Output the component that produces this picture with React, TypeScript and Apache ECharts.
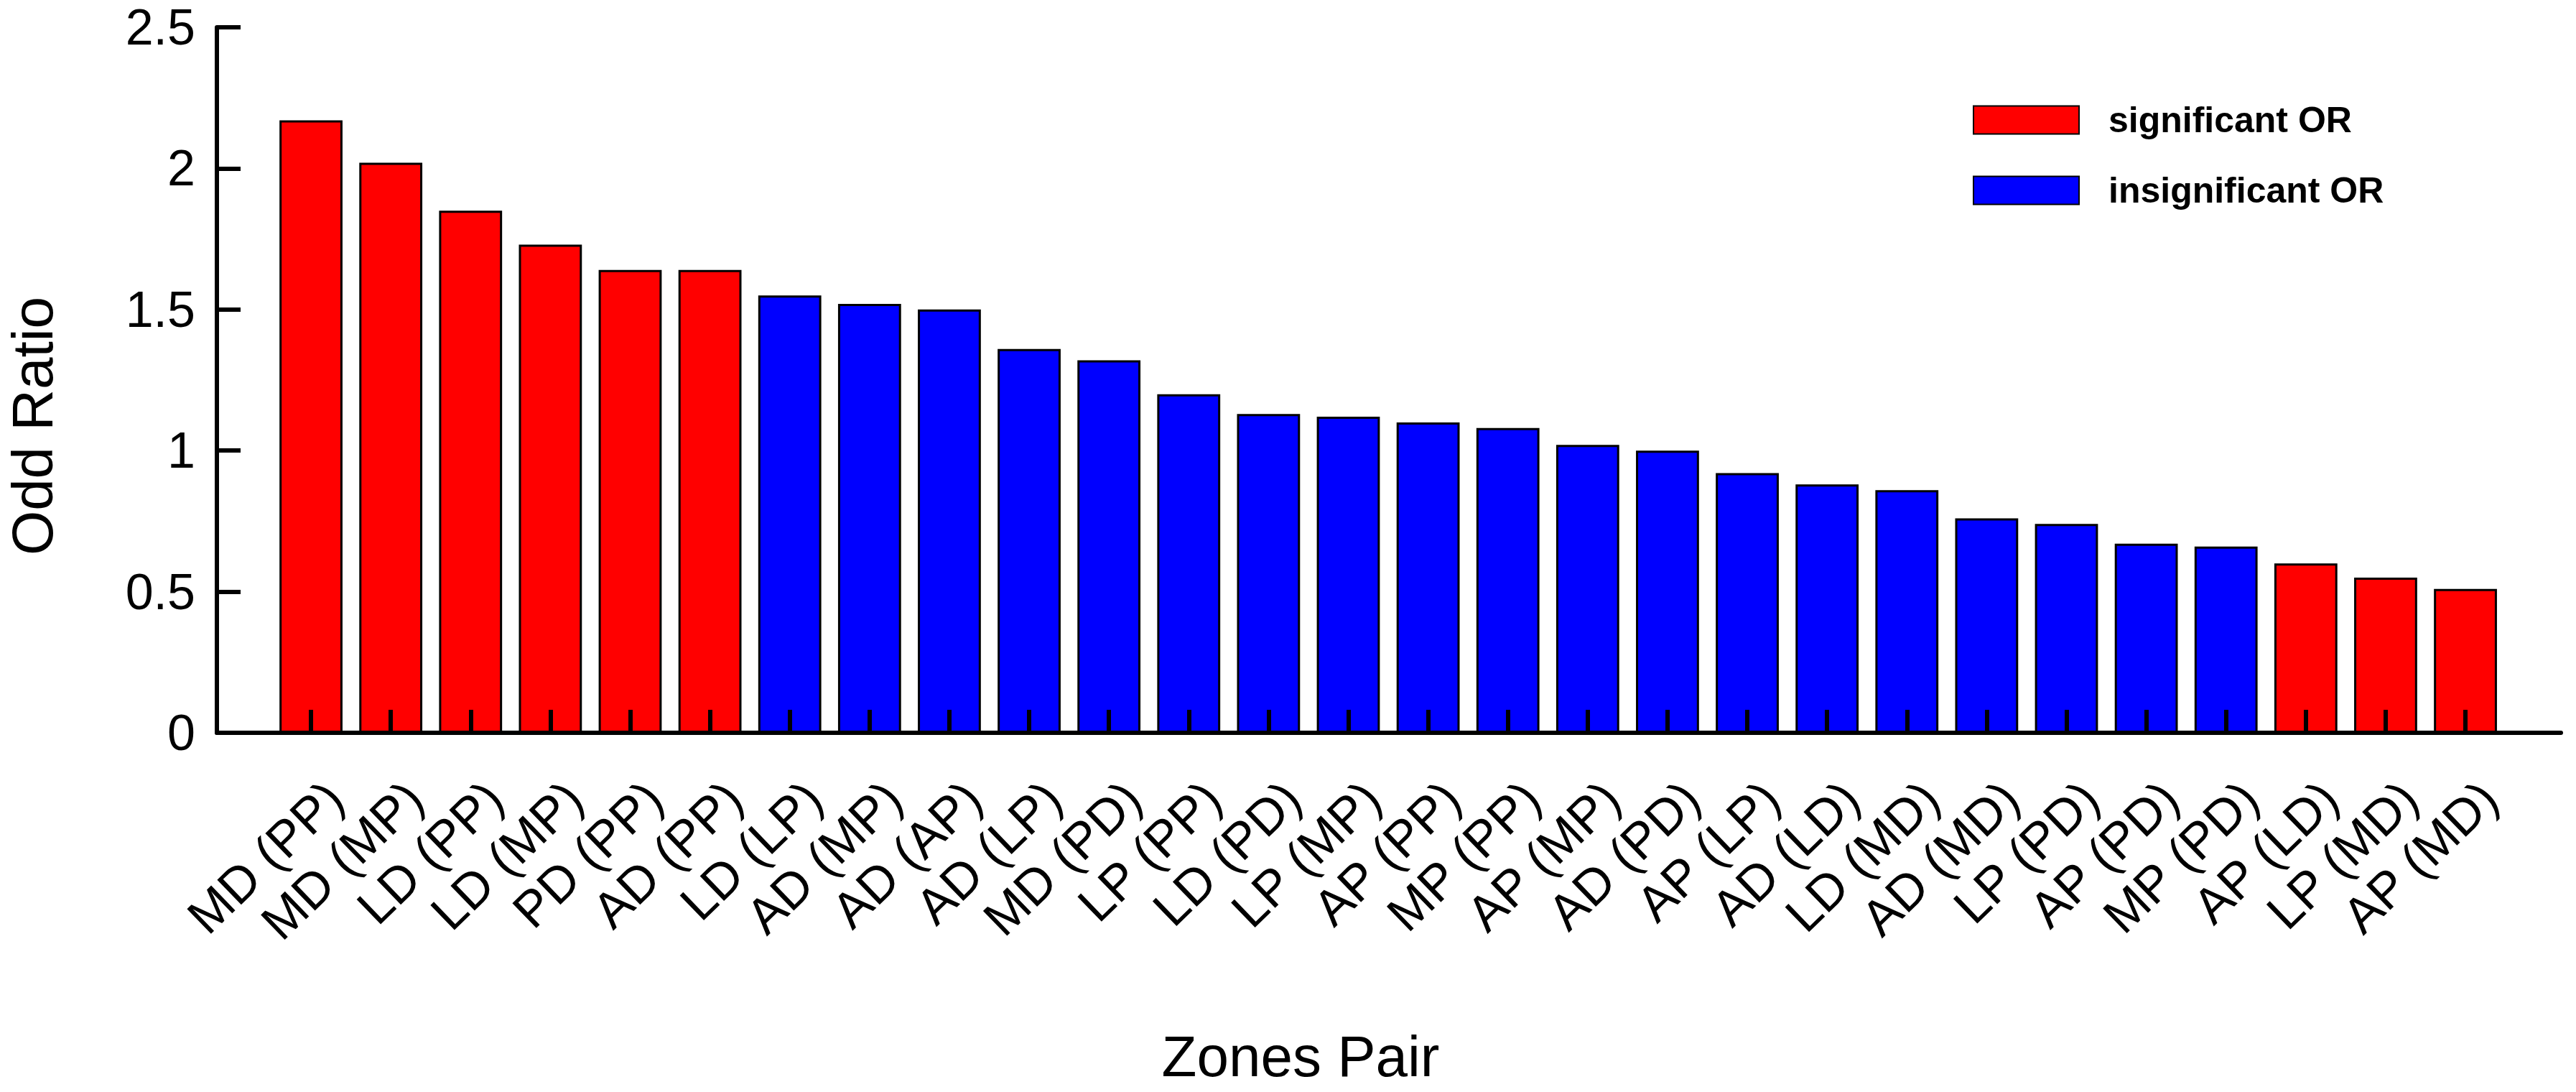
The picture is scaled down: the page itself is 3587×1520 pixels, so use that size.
import React, { useEffect, useRef } from "react";
import * as echarts from "echarts";

const categories = [
  "MD (PP)", "MD (MP)", "LD (PP)", "LD (MP)", "PD (PP)", "AD (PP)", "LD (LP)",
  "AD (MP)", "AD (AP)", "AD (LP)", "MD (PD)", "LP (PP)", "LD (PD)", "LP (MP)",
  "AP (PP)", "MP (PP)", "AP (MP)", "AD (PD)", "AP (LP)", "AD (LD)", "LD (MD)",
  "AD (MD)", "LP (PD)", "AP (PD)", "MP (PD)", "AP (LD)", "LP (MD)", "AP (MD)",
];
const oddRatios = [
  2.17, 2.02, 1.85, 1.73, 1.64, 1.64, 1.55, 1.52, 1.5, 1.36, 1.32, 1.2, 1.13, 1.12,
  1.1, 1.08, 1.02, 1.0, 0.92, 0.88, 0.86, 0.76, 0.74, 0.67, 0.66, 0.6, 0.55, 0.51,
];
const isSignificant = [
  true, true, true, true, true, true, false, false, false, false, false, false, false, false,
  false, false, false, false, false, false, false, false, false, false, false, true, true, true,
];
const legendNames = ["significant OR", "insignificant OR"];
const yMin = 0;
const yMax = 2.5;
const yInterval = 0.5;

const FONT = "'Liberation Sans', Arial, Helvetica, sans-serif";

export default function App() {
  const ref = useRef<HTMLDivElement>(null);
  useEffect(() => {
    document.body.style.margin = "0";
    if (!ref.current) return;
    const chart = echarts.init(ref.current, undefined, { renderer: "svg" });
    const sigData = oddRatios.map((v, i) => (isSignificant[i] ? v : "-"));
    const insigData = oddRatios.map((v, i) => (isSignificant[i] ? "-" : v));
    chart.setOption({
      animation: false,
      backgroundColor: "#fff",
      textStyle: { fontFamily: FONT, color: "#000" },
      grid: [
        { left: 377.5, right: 98.4, top: 38, bottom: 500 },
        { left: 302, right: 21, top: 38, bottom: 500 },
      ],
      legend: {
        data: legendNames,
        orient: "vertical",
        left: 2742,
        top: 137,
        itemWidth: 147,
        itemHeight: 39,
        itemGap: 48,
        icon: "rect",
        textStyle: {
          fontFamily: FONT,
          fontSize: 50,
          fontWeight: "bold",
          color: "#000",
          lineHeight: 39,
          padding: [0, 0, 0, 36],
        },
      },
      xAxis: [
        {
          type: "category",
          gridIndex: 0,
          data: categories,
          z: 10,
          axisLine: { show: false },
          axisTick: {
            show: true,
            inside: true,
            alignWithLabel: true,
            interval: 0,
            length: 32,
            lineStyle: { color: "#000", width: 6 },
          },
          axisLabel: {
            interval: 0,
            rotate: 44,
            margin: 46,
            fontSize: 70,
            fontFamily: FONT,
            color: "#000",
            align: "right",
            verticalAlign: "top",
            lineHeight: 95,
          },
          splitLine: { show: false },
        },
        {
          type: "value",
          gridIndex: 1,
          min: 0,
          max: 1,
          z: 10,
          axisLine: { show: true, lineStyle: { color: "#000", width: 6 } },
          axisTick: { show: false },
          axisLabel: { show: false },
          splitLine: { show: false },
        },
      ],
      yAxis: [
        {
          type: "value",
          gridIndex: 0,
          min: yMin,
          max: yMax,
          interval: yInterval,
          show: false,
          splitLine: { show: false },
        },
        {
          type: "value",
          gridIndex: 1,
          min: yMin,
          max: yMax,
          interval: yInterval,
          z: 10,
          axisLine: { show: true, lineStyle: { color: "#000", width: 6 } },
          axisTick: {
            show: true,
            inside: true,
            length: 33,
            lineStyle: { color: "#000", width: 6 },
          },
          axisLabel: {
            fontSize: 70,
            fontFamily: FONT,
            color: "#000",
            margin: 30,
          },
          splitLine: { show: false },
        },
      ],
      series: [
        {
          name: legendNames[0],
          type: "bar",
          xAxisIndex: 0,
          yAxisIndex: 0,
          data: sigData,
          barWidth: "79%",
          barGap: "-100%",
          itemStyle: { color: "#ff0000", borderColor: "#000", borderWidth: 3 },
        },
        {
          name: legendNames[1],
          type: "bar",
          xAxisIndex: 0,
          yAxisIndex: 0,
          data: insigData,
          barWidth: "79%",
          barGap: "-100%",
          itemStyle: { color: "#0000ff", borderColor: "#000", borderWidth: 3 },
        },
      ],
      graphic: [
        {
          type: "text",
          x: 1811,
          y: 1470,
          style: {
            text: "Zones Pair",
            fontSize: 80,
            fontFamily: FONT,
            fill: "#000",
            align: "center",
            verticalAlign: "middle",
          },
        },
        {
          type: "text",
          x: 45,
          y: 593,
          rotation: Math.PI / 2,
          style: {
            text: "Odd Ratio",
            fontSize: 80,
            fontFamily: FONT,
            fill: "#000",
            align: "center",
            verticalAlign: "middle",
          },
        },
      ],
    });
    return () => chart.dispose();
  }, []);
  return <div ref={ref} style={{ width: 3587, height: 1520 }} />;
}
